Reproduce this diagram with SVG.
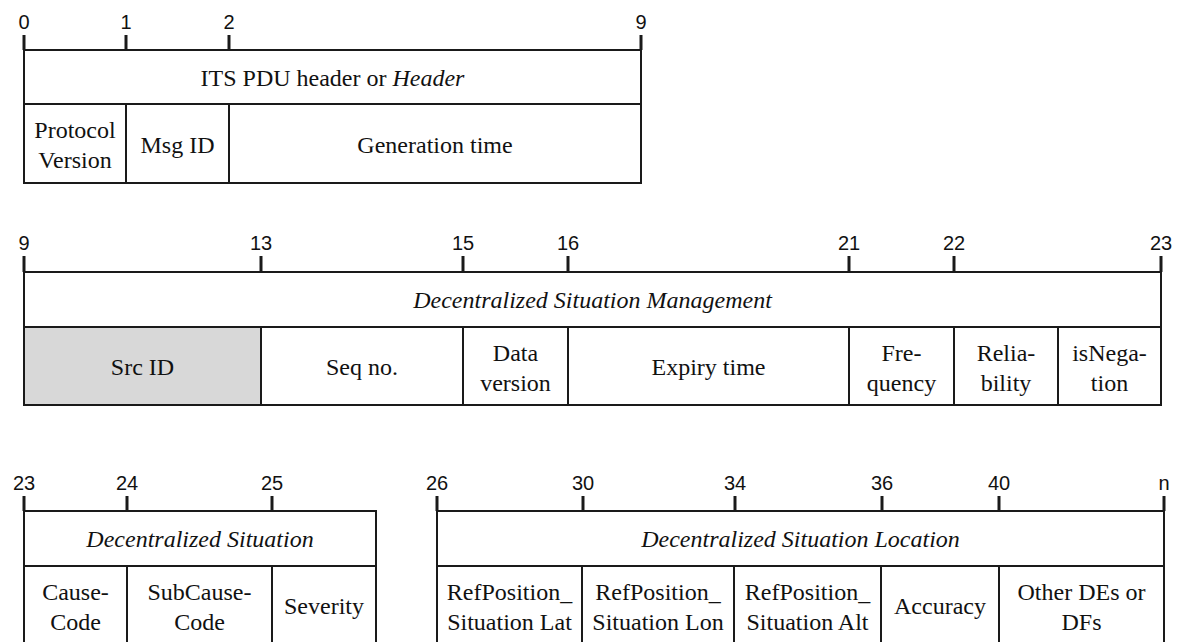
<svg xmlns="http://www.w3.org/2000/svg" width="1184" height="642" viewBox="0 0 1184 642">
<style>
.box{fill:#fff;stroke:#1a1a1a;stroke-width:2}
.grey{fill:#d8d8d8;stroke:#1a1a1a;stroke-width:2}
.tick{stroke:#1a1a1a;stroke-width:3}
.num{font-family:'Liberation Sans',Arial,Helvetica,sans-serif;font-size:20px;fill:#111;text-anchor:middle}
.t{font-family:'Liberation Serif','Times New Roman',Times,'DejaVu Serif',serif;font-size:24px;fill:#111;text-anchor:middle}
.i{font-style:italic}
</style>
<rect width="1184" height="642" fill="#fff"/>

<!-- Header block -->
<g id="ruler-header">
<line class="tick" x1="24" y1="35" x2="24" y2="50"/>
<line class="tick" x1="126" y1="35" x2="126" y2="50"/>
<line class="tick" x1="229" y1="35" x2="229" y2="50"/>
<line class="tick" x1="641" y1="35" x2="641" y2="50"/>
<text class="num" x="24" y="29">0</text>
<text class="num" x="126" y="29">1</text>
<text class="num" x="229" y="29">2</text>
<text class="num" x="641" y="29">9</text>
</g>
<g id="header">
<rect class="box" x="24" y="50" width="617" height="54"/>
<text class="t" x="332.5" y="86" font-family="Liberation Serif, serif">ITS PDU header or <tspan class="i">Header</tspan></text>
</g>
<g id="protocol-version">
<rect class="box" x="24" y="104" width="102" height="79"/>
<text class="t" x="75" y="138">Protocol</text>
<text class="t" x="75" y="168">Version</text>
</g>
<g id="msg-id">
<rect class="box" x="126" y="104" width="103" height="79"/>
<text class="t" x="177.5" y="153">Msg ID</text>
</g>
<g id="generation-time">
<rect class="box" x="229" y="104" width="412" height="79"/>
<text class="t" x="435" y="153">Generation time</text>
</g>

<!-- Management block -->
<g id="ruler-management">
<line class="tick" x1="24" y1="256" x2="24" y2="272"/>
<line class="tick" x1="261" y1="256" x2="261" y2="272"/>
<line class="tick" x1="463" y1="256" x2="463" y2="272"/>
<line class="tick" x1="568" y1="256" x2="568" y2="272"/>
<line class="tick" x1="849" y1="256" x2="849" y2="272"/>
<line class="tick" x1="954" y1="256" x2="954" y2="272"/>
<line class="tick" x1="1161" y1="256" x2="1161" y2="272"/>
<text class="num" x="24" y="250">9</text>
<text class="num" x="261" y="250">13</text>
<text class="num" x="463" y="250">15</text>
<text class="num" x="568" y="250">16</text>
<text class="num" x="849" y="250">21</text>
<text class="num" x="954" y="250">22</text>
<text class="num" x="1161" y="250">23</text>
</g>
<g id="management">
<rect class="box" x="24" y="272" width="1137" height="55"/>
<text class="t i" x="592.5" y="308">Decentralized Situation Management</text>
</g>
<g id="src-id">
<rect class="grey" x="24" y="327" width="237" height="78"/>
<text class="t" x="142.5" y="375">Src ID</text>
</g>
<g id="seq-no">
<rect class="box" x="261" y="327" width="202" height="78"/>
<text class="t" x="362" y="375">Seq no.</text>
</g>
<g id="data-version">
<rect class="box" x="463" y="327" width="105" height="78"/>
<text class="t" x="515.5" y="361">Data</text>
<text class="t" x="515.5" y="391">version</text>
</g>
<g id="expiry-time">
<rect class="box" x="568" y="327" width="281" height="78"/>
<text class="t" x="708.5" y="375">Expiry time</text>
</g>
<g id="frequency">
<rect class="box" x="849" y="327" width="105" height="78"/>
<text class="t" x="901.5" y="361">Fre-</text>
<text class="t" x="901.5" y="391">quency</text>
</g>
<g id="reliability">
<rect class="box" x="954" y="327" width="104" height="78"/>
<text class="t" x="1006" y="361">Relia-</text>
<text class="t" x="1006" y="391">bility</text>
</g>
<g id="is-negation">
<rect class="box" x="1058" y="327" width="103" height="78"/>
<text class="t" x="1109.5" y="361">isNega-</text>
<text class="t" x="1109.5" y="391">tion</text>
</g>

<!-- Situation block -->
<g id="ruler-situation">
<line class="tick" x1="24" y1="496" x2="24" y2="511"/>
<line class="tick" x1="127" y1="496" x2="127" y2="511"/>
<line class="tick" x1="272" y1="496" x2="272" y2="511"/>
<text class="num" x="24" y="490">23</text>
<text class="num" x="127" y="490">24</text>
<text class="num" x="272" y="490">25</text>
</g>
<g id="situation">
<rect class="box" x="24" y="511" width="352" height="55"/>
<text class="t i" x="200" y="547">Decentralized Situation</text>
</g>
<g id="cause-code">
<rect class="box" x="24" y="566" width="103" height="78"/>
<text class="t" x="75.5" y="600">Cause-</text>
<text class="t" x="75.5" y="630">Code</text>
</g>
<g id="subcause-code">
<rect class="box" x="127" y="566" width="145" height="78"/>
<text class="t" x="199.5" y="600">SubCause-</text>
<text class="t" x="199.5" y="630">Code</text>
</g>
<g id="severity">
<rect class="box" x="272" y="566" width="104" height="78"/>
<text class="t" x="324" y="614">Severity</text>
</g>

<!-- Location block -->
<g id="ruler-location">
<line class="tick" x1="437" y1="496" x2="437" y2="511"/>
<line class="tick" x1="583" y1="496" x2="583" y2="511"/>
<line class="tick" x1="735" y1="496" x2="735" y2="511"/>
<line class="tick" x1="882" y1="496" x2="882" y2="511"/>
<line class="tick" x1="999" y1="496" x2="999" y2="511"/>
<line class="tick" x1="1164" y1="496" x2="1164" y2="511"/>
<text class="num" x="437" y="490">26</text>
<text class="num" x="583" y="490">30</text>
<text class="num" x="735" y="490">34</text>
<text class="num" x="882" y="490">36</text>
<text class="num" x="999" y="490">40</text>
<text class="num" x="1164" y="490">n</text>
</g>
<g id="location">
<rect class="box" x="437" y="511" width="727" height="55"/>
<text class="t i" x="800.5" y="547">Decentralized Situation Location</text>
</g>
<g id="ref-lat">
<rect class="box" x="437" y="566" width="145" height="78"/>
<text class="t" x="509.5" y="600">RefPosition_</text>
<text class="t" x="509.5" y="630">Situation Lat</text>
</g>
<g id="ref-lon">
<rect class="box" x="582" y="566" width="152" height="78"/>
<text class="t" x="658" y="600">RefPosition_</text>
<text class="t" x="658" y="630">Situation Lon</text>
</g>
<g id="ref-alt">
<rect class="box" x="734" y="566" width="147" height="78"/>
<text class="t" x="807.5" y="600">RefPosition_</text>
<text class="t" x="807.5" y="630">Situation Alt</text>
</g>
<g id="accuracy">
<rect class="box" x="881" y="566" width="118" height="78"/>
<text class="t" x="940" y="614">Accuracy</text>
</g>
<g id="other">
<rect class="box" x="999" y="566" width="165" height="78"/>
<text class="t" x="1081.5" y="600">Other DEs or</text>
<text class="t" x="1081.5" y="630">DFs</text>
</g>
<g id="connectors"></g>
</svg>
